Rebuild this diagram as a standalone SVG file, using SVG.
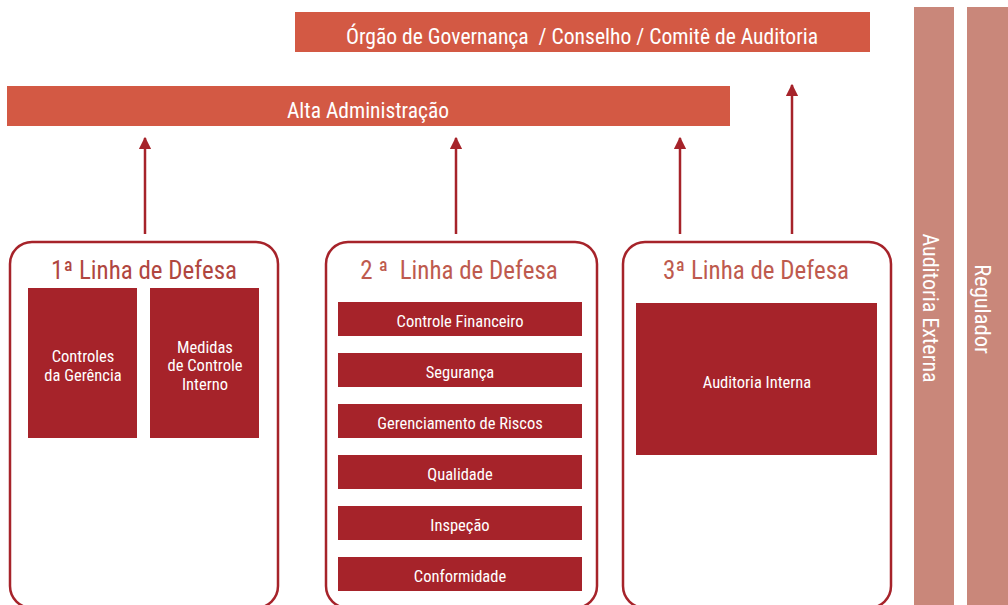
<svg xmlns="http://www.w3.org/2000/svg" width="1008" height="605" viewBox="0 0 1008 605">
<defs>
<style>
.t{font-family:"Liberation Sans Narrow","Roboto Condensed",Roboto,"Liberation Sans",sans-serif;fill:#fff;text-anchor:middle;white-space:pre}
.bar{fill:#D35944}
.side{fill:#C9877A}
.box{fill:none;stroke:#A6232A;stroke-width:2.5}
.in{fill:#A6232A}
.h{font-family:"Liberation Sans Narrow","Roboto Condensed",Roboto,"Liberation Sans",sans-serif;font-size:25px;fill:#BE5A4E;text-anchor:middle;white-space:pre}
.s{font-size:16.5px}
.c{stroke:#A6232A;stroke-width:2.5;fill:none}
</style>
<marker id="ah" viewBox="0 0 10 10" refX="9" refY="5" markerWidth="5" markerHeight="5" orient="auto" markerUnits="strokeWidth">
<path d="M0,0 L10,5 L0,10 z" fill="#A6232A"/>
</marker>
</defs>
<rect width="1008" height="605" fill="#fff"/>
<g id="governanca">
<rect class="bar" x="295" y="12" width="575" height="40"/>
<text class="t" x="582" y="44" font-size="21.6" xml:space="preserve">Órgão de Governança  / Conselho / Comitê de Auditoria</text>
</g>
<g id="alta">
<rect class="bar" x="7" y="86" width="723" height="40"/>
<text class="t" x="368" y="118" font-size="21.5">Alta Administração</text>
</g>
<g id="auditoria-externa">
<rect class="side" x="914" y="7" width="40" height="600"/>
<text class="t" font-size="22" transform="translate(923,308) rotate(90)">Auditoria Externa</text>
</g>
<g id="regulador">
<rect class="side" x="967" y="7" width="41" height="600"/>
<text class="t" font-size="22.5" transform="translate(975,309) rotate(90)">Regulador</text>
</g>
<g id="linha1">
<rect class="box" x="10" y="242" width="268" height="366" rx="22"/>
<text class="h" x="144" y="279" style="fill:#B0463F">1ª Linha de Defesa</text>
<g id="controles-gerencia">
<rect class="in" x="28" y="288" width="109" height="150"/>
<text class="t s" x="83" y="362">Controles</text>
<text class="t s" x="83" y="381">da Gerência</text>
</g>
<g id="medidas">
<rect class="in" x="150" y="288" width="109" height="150"/>
<text class="t s" x="205" y="353">Medidas</text>
<text class="t s" x="205" y="371">de Controle</text>
<text class="t s" x="205" y="390">Interno</text>
</g>
</g>
<g id="linha2">
<rect class="box" x="326" y="242" width="271" height="366" rx="22"/>
<text class="h" x="459" y="279" xml:space="preserve">2 ª  Linha de Defesa</text>
<g id="financeiro"><rect class="in" x="338" y="302" width="244" height="34"/><text class="t s" x="460" y="327">Controle Financeiro</text></g>
<g id="seguranca"><rect class="in" x="338" y="353" width="244" height="34"/><text class="t s" x="460" y="378">Segurança</text></g>
<g id="riscos"><rect class="in" x="338" y="404" width="244" height="34"/><text class="t s" x="460" y="429">Gerenciamento de Riscos</text></g>
<g id="qualidade"><rect class="in" x="338" y="455" width="244" height="34"/><text class="t s" x="460" y="480">Qualidade</text></g>
<g id="inspecao"><rect class="in" x="338" y="506" width="244" height="34"/><text class="t s" x="460" y="531">Inspeção</text></g>
<g id="conformidade"><rect class="in" x="338" y="557" width="244" height="34"/><text class="t s" x="460" y="582">Conformidade</text></g>
</g>
<g id="linha3">
<rect class="box" x="623" y="242" width="268" height="366" rx="22"/>
<text class="h" x="756" y="279">3ª Linha de Defesa</text>
<g id="auditoria-interna">
<rect class="in" x="636" y="303" width="241" height="152"/>
<text class="t s" x="757" y="388">Auditoria Interna</text>
</g>
</g>
<g id="connectors">
<line class="c" x1="145" y1="234" x2="145" y2="138" marker-end="url(#ah)"/>
<line class="c" x1="456" y1="234" x2="456" y2="138" marker-end="url(#ah)"/>
<line class="c" x1="680" y1="234" x2="680" y2="138" marker-end="url(#ah)"/>
<line class="c" x1="792" y1="234" x2="792" y2="85" marker-end="url(#ah)"/>
</g>
</svg>
